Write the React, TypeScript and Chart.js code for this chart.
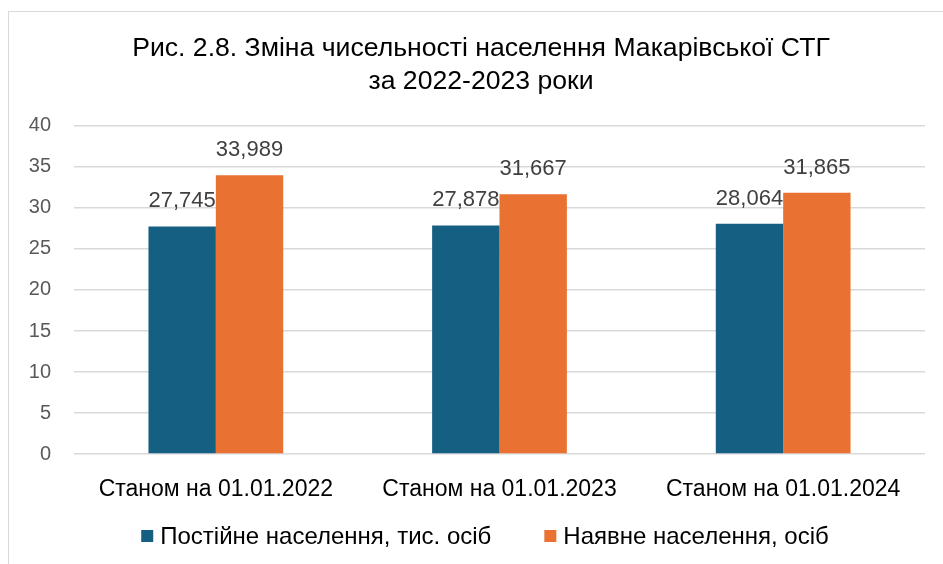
import { useEffect, useRef } from "react";
import { Chart, registerables } from "chart.js";

Chart.register(...registerables);

const categories = ["Станом на 01.01.2022", "Станом на 01.01.2023", "Станом на 01.01.2024"];
const permanentPopulation = [27.745, 27.878, 28.064];
const presentPopulation = [33.989, 31.667, 31.865];
const seriesNames = ["Постійне населення, тис. осіб", "Наявне населення, осіб"];
const seriesColors = ["#156082", "#E97132"];
const titleLines = ["Рис. 2.8. Зміна чисельності населення Макарівської СТГ", "за 2022-2023 роки"];
const yMin = 0;
const yMax = 40;
const yStep = 5;

const FONT = "'Liberation Sans', Arial, sans-serif";

const fmt = (v: number) => v.toFixed(3).replace(".", ",");

const titleShiftPlugin = {
  id: "titleShift",
  afterLayout(chart: any) {
    if (chart.titleBlock) {
      chart.titleBlock.left = 28;
    }
  },
};

const dataLabelsPlugin = {
  id: "dataLabels",
  afterDatasetsDraw(chart: any) {
    const ctx = chart.ctx;
    ctx.save();
    ctx.font = `22px ${FONT}`;
    ctx.fillStyle = "#404040";
    ctx.textAlign = "center";
    ctx.textBaseline = "alphabetic";
    chart.data.datasets.forEach((ds: any, di: number) => {
      const meta = chart.getDatasetMeta(di);
      meta.data.forEach((el: any, i: number) => {
        ctx.fillText(fmt(ds.data[i]), el.x, el.y - 19);
      });
    });
    ctx.restore();
  },
};

const legendPlugin = {
  id: "customLegend",
  afterDraw(chart: any) {
    const ctx = chart.ctx;
    ctx.save();
    ctx.font = `24px ${FONT}`;
    const box = 12;
    const gap = 7;
    const itemGap = 53;
    const items = chart.data.datasets.map((ds: any) => ({
      text: ds.label,
      color: ds.backgroundColor,
      w: ctx.measureText(ds.label).width,
    }));
    const total = items.reduce((s: number, it: any) => s + box + gap + it.w, 0) + itemGap * (items.length - 1);
    let x = (chart.width - total) / 2 + 3;
    const cy = 524;
    ctx.textBaseline = "middle";
    ctx.textAlign = "left";
    items.forEach((it: any) => {
      ctx.fillStyle = it.color;
      ctx.fillRect(x, cy - box / 2, box, box);
      x += box + gap;
      ctx.fillStyle = "#000000";
      ctx.fillText(it.text, x, cy + 1);
      x += it.w + itemGap;
    });
    ctx.restore();
  },
};

export default function App() {
  const ref = useRef<HTMLCanvasElement | null>(null);

  useEffect(() => {
    if (!ref.current) return;
    const chart = new Chart(ref.current, {
      type: "bar",
      data: {
        labels: categories,
        datasets: [
          {
            label: seriesNames[0],
            data: permanentPopulation,
            backgroundColor: seriesColors[0],
            barPercentage: 1,
            categoryPercentage: 0.475,
          },
          {
            label: seriesNames[1],
            data: presentPopulation,
            backgroundColor: seriesColors[1],
            barPercentage: 1,
            categoryPercentage: 0.475,
          },
        ],
      },
      options: {
        responsive: false,
        animation: false,
        layout: { padding: { top: 0, left: 0, right: 30, bottom: 68 } },
        plugins: {
          legend: { display: false },
          tooltip: { enabled: false },
          title: {
            display: true,
            text: titleLines,
            color: "#000000",
            font: { family: FONT, size: 26.6, weight: "normal", lineHeight: 1.24 },
            padding: { top: 20, bottom: 28 },
          },
        },
        scales: {
          x: {
            grid: { display: false },
            border: { display: false },
            ticks: {
              color: "#000000",
              font: { family: FONT, size: 23 },
              padding: 14,
              maxRotation: 0,
            },
            afterFit: (s: any) => {
              s.height = 50;
            },
          },
          y: {
            min: yMin,
            max: yMax,
            grid: { color: "#d9d9d9", lineWidth: 1.5, drawTicks: false },
            border: { display: false },
            ticks: {
              stepSize: yStep,
              color: "#595959",
              font: { family: FONT, size: 20 },
              padding: 23,
            },
            afterFit: (s: any) => {
              s.width = 65;
            },
          },
        },
      },
      plugins: [titleShiftPlugin, dataLabelsPlugin, legendPlugin],
    });
    return () => chart.destroy();
  }, []);

  return (
    <div
      style={{
        position: "fixed",
        left: 8,
        top: 11,
        border: "1px solid #d9d9d9",
        background: "#ffffff",
      }}
    >
      <canvas ref={ref} width={946} height={560} style={{ display: "block" }} />
    </div>
  );
}
